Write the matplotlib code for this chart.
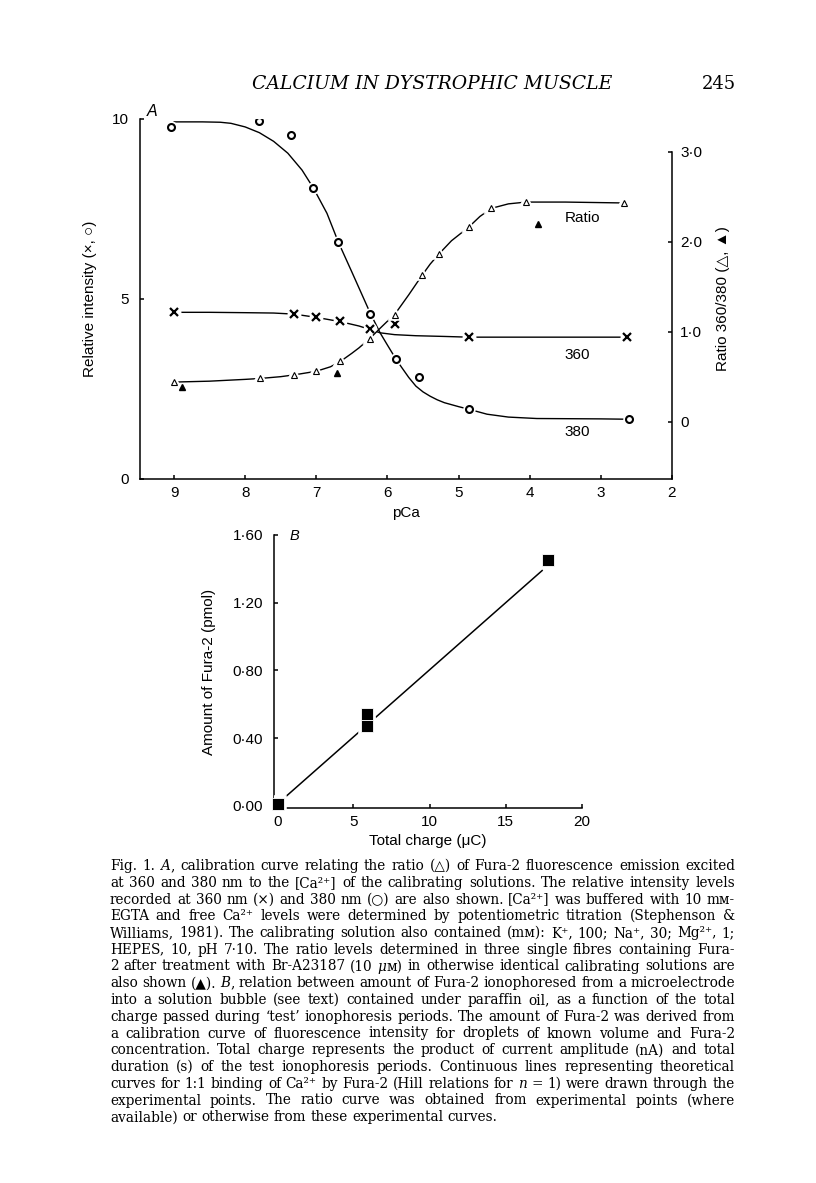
#!/usr/bin/env python
# Fig. 1 -- calibracion Fura-2 (A) y ionoforesis (B)
import numpy as np
import matplotlib
matplotlib.use('Agg')
import matplotlib.pyplot as plt

W, H = 816, 1183

# ---------------- datos panel A ----------------
# 380 nm (circulos)
pca_380 = [9.04, 7.80, 7.36, 7.04, 6.69, 6.24, 5.88, 5.55, 4.86, 2.61]
int_380 = [9.79, 9.95, 9.56, 8.08, 6.58, 4.59, 3.33, 2.84, 1.94, 1.67]
# 360 nm (cruces)
pca_360 = [9.0, 7.31, 7.0, 6.66, 6.24, 5.89, 4.86, 2.63]
int_360 = [4.63, 4.59, 4.49, 4.38, 4.17, 4.30, 3.94, 3.94]
# cociente 360/380 (triangulos abiertos)
pca_ratio = [9.0, 7.79, 7.31, 7.01, 6.66, 6.24, 5.89, 5.51, 5.28, 4.86, 4.54, 4.05, 2.67]
ratio = [0.44, 0.48, 0.52, 0.56, 0.67, 0.92, 1.18, 1.63, 1.86, 2.16, 2.37, 2.44, 2.43]
# fibras (triangulos llenos)
pca_fibre = [8.89, 6.71, 3.88]
ratio_fibre = [0.38, 0.54, 2.20]

# curvas teoricas
curve380_x = [9.0, 8.6, 8.35, 8.2, 8.0, 7.8, 7.6, 7.4, 7.2, 7.04, 6.85, 6.69, 6.5, 6.24, 6.1,
              6.0, 5.88, 5.8, 5.7, 5.6, 5.5, 5.4, 5.3, 5.2, 5.0, 4.86, 4.6, 4.3, 3.9, 3.0, 2.61]
curve380_y = [9.92, 9.92, 9.91, 9.88, 9.78, 9.62, 9.38, 9.05, 8.58, 8.08, 7.38, 6.58, 5.75, 4.6, 4.05,
              3.72, 3.33, 3.1, 2.82, 2.58, 2.42, 2.3, 2.2, 2.12, 2.01, 1.94, 1.8, 1.72, 1.68, 1.67, 1.66]
curve360_x = [9.0, 8.5, 8.0, 7.6, 7.31, 7.0, 6.66, 6.4, 6.24, 6.1, 5.9, 5.6, 5.2, 4.86, 4.0, 2.63]
curve360_y = [4.63, 4.63, 4.62, 4.61, 4.58, 4.49, 4.37, 4.25, 4.15, 4.06, 4.01, 3.98, 3.96, 3.94, 3.94, 3.94]
curveR_x = [9.0, 8.5, 8.0, 7.79, 7.5, 7.31, 7.0, 6.8, 6.66, 6.5, 6.4, 6.24, 6.1, 5.89, 5.7,
            5.51, 5.4, 5.28, 5.1, 4.86, 4.7, 4.54, 4.3, 4.05, 3.5, 2.67]
curveR_y = [0.44, 0.45, 0.47, 0.48, 0.50, 0.52, 0.56, 0.61, 0.67, 0.76, 0.82, 0.93, 1.04, 1.2, 1.41,
            1.63, 1.75, 1.86, 2.01, 2.16, 2.28, 2.37, 2.42, 2.44, 2.44, 2.43]

xticksA = [9, 8, 7, 6, 5, 4, 3, 2]
yticksL = [0, 5, 10]
yticksR = [0, 1, 2, 3]
yticksR_lab = ['0', '1·0', '2·0', '3·0']

# ---------------- datos panel B ----------------
charge = [0.07, 5.91, 5.91, 17.8]
fura = [0.01, 0.545, 0.47, 1.45]
fit_x = [0.55, 17.4]
fit_y = [0.055, 1.39]
xticksB = [0, 5, 10, 15, 20]
yticksB = [0.0, 0.4, 0.8, 1.2, 1.6]
yticksB_lab = ['0·00', '0·40', '0·80', '1·20', '1·60']

# ---------------- texto ----------------
caption = [
    "Fig. 1. *A*, calibration curve relating the ratio (△) of Fura-2 fluorescence emission excited",
    "at 360 and 380 nm to the [Ca²⁺] of the calibrating solutions. The relative intensity levels",
    "recorded at 360 nm (×) and 380 nm (○) are also shown. [Ca²⁺] was buffered with 10 mᴍ-",
    "EGTA and free Ca²⁺ levels were determined by potentiometric titration (Stephenson &",
    "Williams, 1981). The calibrating solution also contained (mᴍ): K⁺, 100; Na⁺, 30; Mg²⁺, 1;",
    "HEPES, 10, pH 7·10. The ratio levels determined in three single fibres containing Fura-",
    "2 after treatment with Br-A23187 (10 *μ*ᴍ) in otherwise identical calibrating solutions are",
    "also shown (▲). *B*, relation between amount of Fura-2 ionophoresed from a microelectrode",
    "into a solution bubble (see text) contained under paraffin oil, as a function of the total",
    "charge passed during ‘test’ ionophoresis periods. The amount of Fura-2 was derived from",
    "a calibration curve of fluorescence intensity for droplets of known volume and Fura-2",
    "concentration. Total charge represents the product of current amplitude (nA) and total",
    "duration (s) of the test ionophoresis periods. Continuous lines representing theoretical",
    "curves for 1:1 binding of Ca²⁺ by Fura-2 (Hill relations for *n* = 1) were drawn through the",
    "experimental points. The ratio curve was obtained from experimental points (where",
    "available) or otherwise from these experimental curves.",
]

sans = ['Liberation Sans', 'DejaVu Sans']
serif = ['DejaVu Serif', 'DejaVu Sans']
plt.rcParams['font.family'] = sans
plt.rcParams['font.size'] = 11
plt.rcParams['axes.linewidth'] = 1.1
for k in ['xtick', 'ytick']:
    plt.rcParams[k + '.direction'] = 'in'
    plt.rcParams[k + '.major.size'] = 3
    plt.rcParams[k + '.major.width'] = 1.1
    plt.rcParams[k + '.major.pad'] = 5

fig = plt.figure(figsize=(W / 100, H / 100), dpi=100)


def halo(ax, x, y, marker, ms, z=3):
    # mancha blanca bajo el marcador para cortar la linea
    ax.plot(x, y, ls='none', marker=marker, ms=ms, mfc='white', mec='white', mew=4, zorder=z)


# ================= PANEL A =================
axA = fig.add_axes([140 / W, 1 - 479 / H, 532 / W, 360 / H])
axA.set_xlim(9.478, 2.0)
axA.set_ylim(0, 10)
axA.spines['top'].set_visible(False)
axA.spines['right'].set_visible(False)
axA.set_xticks(xticksA)
axA.set_xticklabels([str(v) for v in xticksA])
axA.set_yticks(yticksL)
axA.set_yticklabels([str(v) for v in yticksL])
axA.tick_params(axis='y', pad=8)

axA.plot(curve380_x, curve380_y, color='black', lw=1.0, zorder=2)
axA.plot(curve360_x, curve360_y, color='black', lw=1.0, zorder=2)
halo(axA, pca_380, int_380, 'o', 5)
halo(axA, pca_360, int_360, 'o', 6)
axA.plot(pca_380, int_380, ls='none', marker='o', ms=5, mfc='white', mec='black', mew=1.5, zorder=4)
axA.plot(pca_360, int_360, ls='none', marker='x', ms=5.5, mec='black', mew=1.6, zorder=4)

axR = axA.twinx()
axR.set_ylim(-0.637, 3.363)
for s in ['top', 'left', 'bottom']:
    axR.spines[s].set_visible(False)
axR.spines['right'].set_bounds(-0.637, 3.0)
axR.set_yticks(yticksR)
axR.set_yticklabels(yticksR_lab)
axR.tick_params(axis='y', pad=6)
axR.plot(curveR_x, curveR_y, color='black', lw=1.0, zorder=2)
halo(axR, pca_ratio, ratio, '^', 5)
axR.plot(pca_ratio, ratio, ls='none', marker='^', ms=4.5, mfc='white', mec='black', mew=0.8, zorder=4)
axR.plot(pca_fibre, ratio_fibre, ls='none', marker='^', ms=4.5, mfc='black', mec='black', zorder=4)

axA.set_xlabel('pCa', labelpad=4)
axA.set_ylabel('Relative intensity (×, ○)', labelpad=11)
axR.set_ylabel('Ratio 360/380 (△, ▲)', labelpad=10)
axR.text(3.26, 2.26, 'Ratio', ha='center', va='center')
axA.text(3.33, 3.44, '360', ha='center', va='center')
axA.text(3.33, 1.31, '380', ha='center', va='center')
fig.text(152 / W, 1 - 112 / H, 'A', style='italic', ha='center', va='center', fontsize=11.5)

# ================= PANEL B =================
axB = fig.add_axes([274.3 / W, 1 - 808 / H, 307.4 / W, 273 / H])
axB.set_xlim(-0.2, 20)
axB.set_ylim(-0.012, 1.60)
axB.spines['top'].set_visible(False)
axB.spines['right'].set_visible(False)
axB.set_xticks(xticksB)
axB.set_xticklabels([str(v) for v in xticksB])
axB.set_yticks(yticksB)
axB.set_yticklabels(yticksB_lab)
axB.tick_params(axis='y', pad=8)
axB.plot(fit_x, fit_y, color='black', lw=1.1, zorder=2)
halo(axB, charge, fura, 's', 8)
axB.plot(charge, fura, ls='none', marker='s', ms=8, mfc='black', mec='white', mew=0.6,
         zorder=4, clip_on=False)
axB.set_xlabel('Total charge (μC)', labelpad=4)
axB.set_ylabel('Amount of Fura-2 (pmol)', labelpad=12)
fig.text(294 / W, 1 - 536 / H, 'B', style='italic', ha='center', va='center', fontsize=10.5)

# ================= cabecera =================
fig.text(432 / W, 1 - 84 / H, 'CALCIUM IN DYSTROPHIC MUSCLE', family=serif,
         style='italic', fontsize=13.5, ha='center', va='center')
fig.text(719 / W, 1 - 84 / H, '245', family=serif, fontsize=13, ha='center', va='center')

# ================= leyenda (justificada) =================
renderer = fig.canvas.get_renderer()
x_left, x_right = 110, 735


def width_of(s, italic=False, size=10):
    t = fig.text(0, 0, s, family=serif, size=size, style='italic' if italic else 'normal')
    w = t.get_window_extent(renderer).width
    t.remove()
    return w


# tamano de letra para que las lineas llenen casi todo el ancho
cap_size = 10 * (x_right - x_left - 8) / width_of(caption[0].replace('*', ''))
space_w = width_of('a a', size=cap_size) - width_of('aa', size=cap_size)

for i, line in enumerate(caption):
    y = 866 + 16.75 * i
    words = []
    for tok in line.split(' '):
        parts = tok.split('*')
        pieces = [(p, j % 2 == 1) for j, p in enumerate(parts) if p]
        words.append([(p, it, width_of(p, it, cap_size)) for p, it in pieces])
    total = sum(w for wd in words for _, _, w in wd)
    last = (i == len(caption) - 1)
    gap = space_w if last else (x_right - x_left - total) / (len(words) - 1)
    x = x_left
    for wd in words:
        for p, it, w in wd:
            fig.text(x / W, 1 - y / H, p, family=serif, size=cap_size,
                     style='italic' if it else 'normal', ha='left', va='center')
            x += w
        x += gap

fig.savefig('out.png', dpi=100)
